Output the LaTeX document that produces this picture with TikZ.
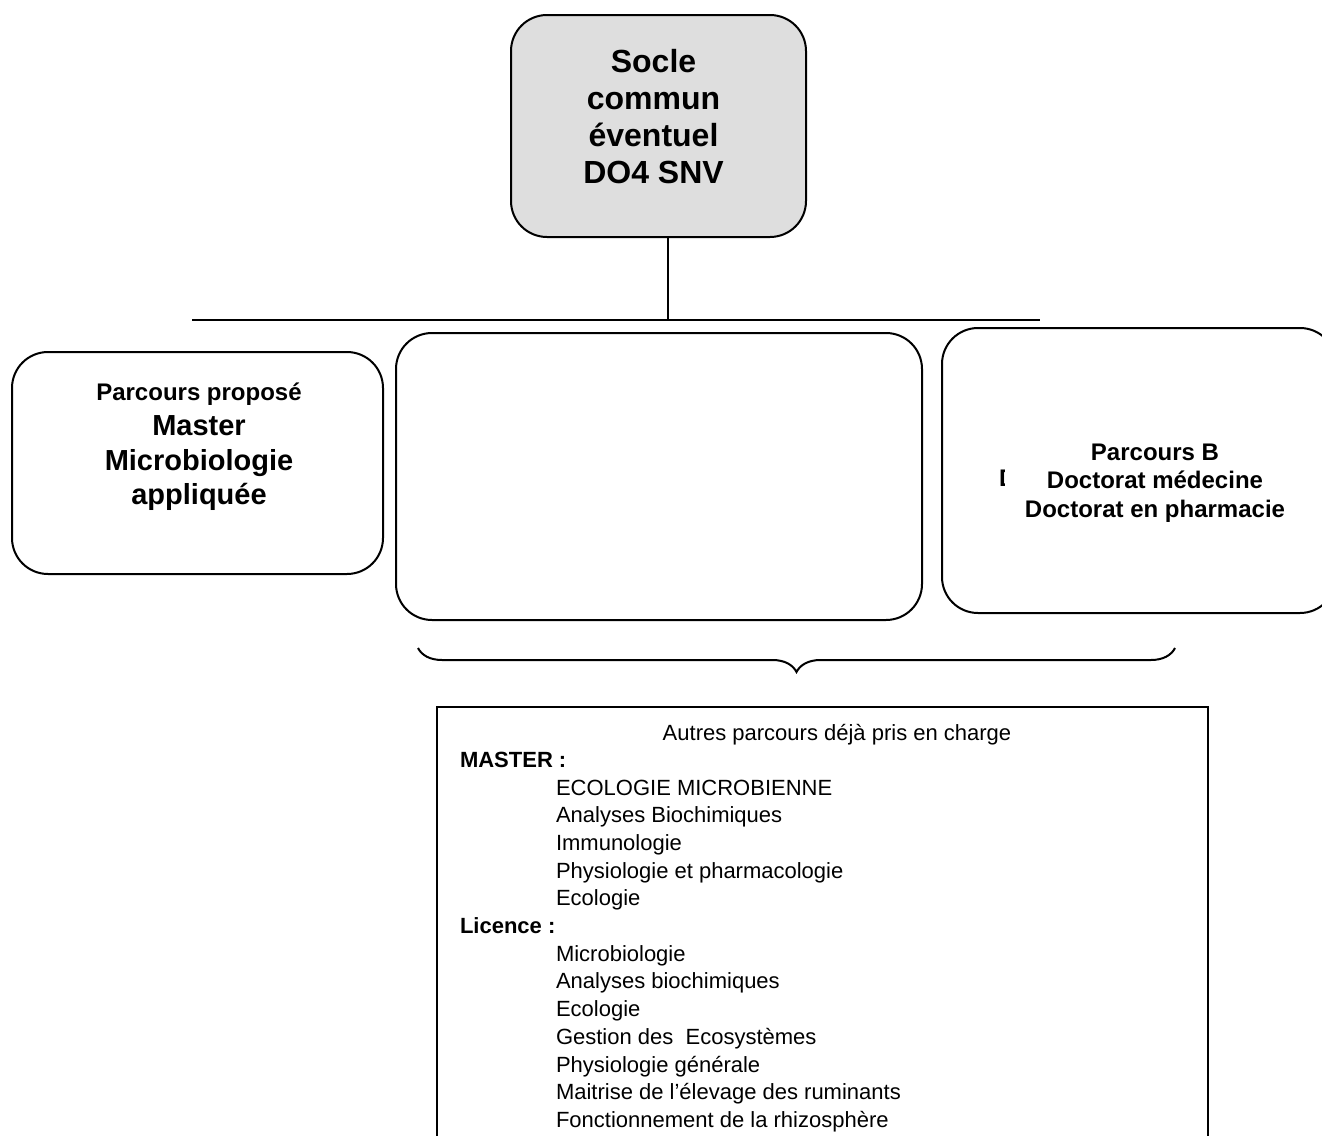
\documentclass[tikz,border=0pt]{standalone}
\usepackage{fontspec}
\setmainfont{Liberation Sans}
\usetikzlibrary{positioning, calc, decorations.pathreplacing}

\begin{document}
\begin{tikzpicture}[
        x=0.5pt, y=-0.5pt,
        line width=1pt,
        boite/.style={rectangle, draw=black, rounded corners=18pt, inner sep=0pt},
        titre/.style={align=center, font=\bfseries\fontsize{16}{18.5}\selectfont},
        parcours/.style={align=center, font=\bfseries\fontsize{12}{14.2}\selectfont},
        liste/.style={align=left, inner sep=0pt, font=\fontsize{11}{13.85}\selectfont}
    ]
    \useasboundingbox (0,0) rectangle (1322,1135);
    \clip (0,0) rectangle (1322,1135);

    % ================= SOCLE COMMUN =================
    \node[boite, fill=black!13, minimum width=147.5pt, minimum height=111pt] (socle) at (658.5,126) {};
    \node[titre] (socle_txt) at ($(socle)+(-5,-9)$) {Socle\\commun\\éventuel\\DO4 SNV};

    % Liaison vers les parcours
    \coordinate (jonction) at (668,320);
    \coordinate (barre_g) at (192,320);
    \coordinate (barre_d) at (1040,320);
    \draw (socle.south -| jonction) -- (jonction);
    \draw (barre_g) -- (barre_d);

    % ================= PARCOURS =================
    \node[boite, minimum width=185.5pt, minimum height=111pt] (parc_a) at (197.5,463) {};
    \node[align=center, font=\bfseries\fontsize{14.5}{17.4}\selectfont] (parc_a_txt) at (199,447)
        {{\fontsize{12}{14}\selectfont Parcours proposé}\\Master\\Microbiologie\\appliquée};

    \node[boite, minimum width=263pt, minimum height=143.5pt] (parc_vide) at (659,476.5) {};

    \node[boite, minimum width=197pt, minimum height=142.5pt] (parc_b) at (1139,470.5) {};
    \begin{scope}
        \clip (996,460) rectangle (1004,495);
        \node[parcours, anchor=west, inner sep=0pt] (fragment) at (998,478) {D};
    \end{scope}
    \node[parcours] (parc_b_txt) at (1155,483) {Parcours B\\Doctorat médecine\\Doctorat en pharmacie};

    % Accolade
    \coordinate (acc_g) at (418,648);
    \coordinate (acc_d) at (1175,648);
    \draw[decorate, decoration={brace, mirror, amplitude=12pt}] (acc_g) -- (acc_d);

    % ================= AUTRES PARCOURS =================
    \node[rectangle, draw=black, minimum width=385.5pt, minimum height=226.5pt] (autres) at (822.5,933.5) {};
    \node[liste] (autres_titre) at (837,735) {Autres parcours déjà pris en charge};
    \node[liste, anchor=north west] (autres_liste) at (459,751) {%
        \textbf{MASTER :}\\
        \hspace*{48pt}ECOLOGIE MICROBIENNE\\
        \hspace*{48pt}Analyses Biochimiques\\
        \hspace*{48pt}Immunologie\\
        \hspace*{48pt}Physiologie et pharmacologie\\
        \hspace*{48pt}Ecologie\\
        \textbf{Licence :}\\
        \hspace*{48pt}Microbiologie\\
        \hspace*{48pt}Analyses biochimiques\\
        \hspace*{48pt}Ecologie\\
        \hspace*{48pt}Gestion des\ \ Ecosystèmes\\
        \hspace*{48pt}Physiologie générale\\
        \hspace*{48pt}Maitrise de l’élevage des ruminants\\
        \hspace*{48pt}Fonctionnement de la rhizosphère};

\end{tikzpicture}
\end{document}
